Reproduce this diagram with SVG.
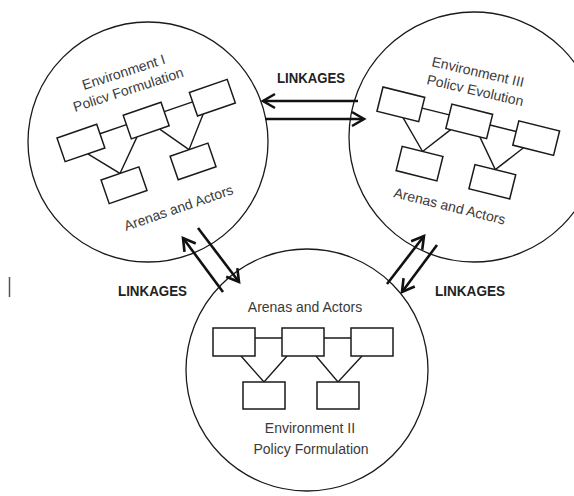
<svg xmlns="http://www.w3.org/2000/svg" width="574" height="496" viewBox="0 0 574 496">
  <defs>
    <style>
      .env { fill: #ffffff; stroke: #1a1a1a; stroke-width: 1.3; }
      .box { fill: #ffffff; stroke: #1a1a1a; stroke-width: 1.5; }
      .tie { fill: none; stroke: #1a1a1a; stroke-width: 1.4; }
      .lbl { font-family: "Liberation Sans", Arial, sans-serif; font-size: 14px; fill: #3a3a3a; }
      .link { font-family: "Liberation Sans", Arial, sans-serif; font-size: 14px; font-weight: bold; fill: #222222; }
      .arrow { fill: none; stroke: #111111; stroke-width: 2.6; marker-end: url(#head); }
    </style>
    <marker id="head" markerUnits="userSpaceOnUse" markerWidth="20" markerHeight="20" refX="13" refY="8" orient="auto" overflow="visible">
      <path d="M1,1 L13,8 L1,15" fill="none" stroke="#111111" stroke-width="2.6" stroke-linejoin="miter"/>
    </marker>
  </defs>

  <rect x="0" y="0" width="574" height="496" fill="#ffffff"/>

  <!-- Environment I -->
  <g id="env1">
    <circle class="env" cx="148" cy="142" r="120"/>
    <text class="lbl" transform="translate(84,90) rotate(-18)">Environment I</text>
    <text class="lbl" transform="translate(75,112) rotate(-18)">Policv Formulation</text>
    <g transform="translate(57,138) rotate(-19)">
      <path class="tie" d="M42,10 H70 M110,10 H140 M24,25 L48,54 L76,25 M100,25 L121,54 L146,25"/>
      <rect class="box" x="0" y="0" width="42" height="25"/>
      <rect class="box" x="70" y="0" width="40" height="25"/>
      <rect class="box" x="140" y="0" width="40" height="25"/>
      <rect class="box" x="28" y="54" width="40" height="25"/>
      <rect class="box" x="101" y="54" width="40" height="25"/>
    </g>
    <text class="lbl" transform="translate(126,231) rotate(-19)">Arenas and Actors</text>
  </g>

  <!-- Environment III -->
  <g id="env3">
    <circle class="env" cx="474" cy="137" r="125"/>
    <text class="lbl" transform="translate(431,66) rotate(13)">Environment III</text>
    <text class="lbl" transform="translate(426,84) rotate(13)">Policv Evolution</text>
    <g transform="translate(383,87) rotate(14)">
      <path class="tie" d="M43,11 H71 M113,11 H140 M27,25 L54,53 L76,25 M106,25 L129,53 L151,25"/>
      <rect class="box" x="0" y="0" width="43" height="25"/>
      <rect class="box" x="71" y="0" width="42" height="25"/>
      <rect class="box" x="140" y="0" width="42" height="25"/>
      <rect class="box" x="33" y="53" width="42" height="25"/>
      <rect class="box" x="108" y="53" width="42" height="25"/>
    </g>
    <text class="lbl" transform="translate(393,197) rotate(14)">Arenas and Actors</text>
  </g>

  <!-- Environment II -->
  <g id="env2">
    <circle class="env" cx="307" cy="370" r="121"/>
    <text class="lbl" x="305" y="312" text-anchor="middle">Arenas and Actors</text>
    <path class="tie" d="M255,338 H282 M324,338 H351 M241,356 L264,382 L287,356 M316,356 L338,382 L362,356"/>
    <rect class="box" x="213" y="328" width="42" height="28"/>
    <rect class="box" x="282" y="328" width="42" height="28"/>
    <rect class="box" x="351" y="328" width="42" height="28"/>
    <rect class="box" x="243" y="382" width="42" height="27"/>
    <rect class="box" x="317" y="382" width="42" height="27"/>
    <text class="lbl" x="310" y="433" text-anchor="middle">Environment II</text>
    <text class="lbl" x="311" y="454" text-anchor="middle">Policy Formulation</text>
  </g>

  <!-- Linkages between environments -->
  <g id="connectors">
    <line class="arrow" x1="358" y1="101" x2="263" y2="101"/>
    <line class="arrow" x1="265" y1="119" x2="364" y2="119"/>
    <line class="arrow" x1="223" y1="292" x2="183" y2="238"/>
    <line class="arrow" x1="198" y1="228" x2="239" y2="282"/>
    <line class="arrow" x1="387" y1="284" x2="424" y2="236"/>
    <line class="arrow" x1="437" y1="245" x2="402" y2="292"/>
    <text class="link" x="277" y="83" textLength="68" lengthAdjust="spacingAndGlyphs">LINKAGES</text>
    <text class="link" x="118" y="296" textLength="69" lengthAdjust="spacingAndGlyphs">LINKAGES</text>
    <text class="link" x="435" y="296" textLength="70" lengthAdjust="spacingAndGlyphs">LINKAGES</text>
  </g>

  <!-- stray vertical bar at the left margin -->
  <line x1="9.5" y1="277" x2="9.5" y2="297" stroke="#555555" stroke-width="1.5"/>
</svg>
